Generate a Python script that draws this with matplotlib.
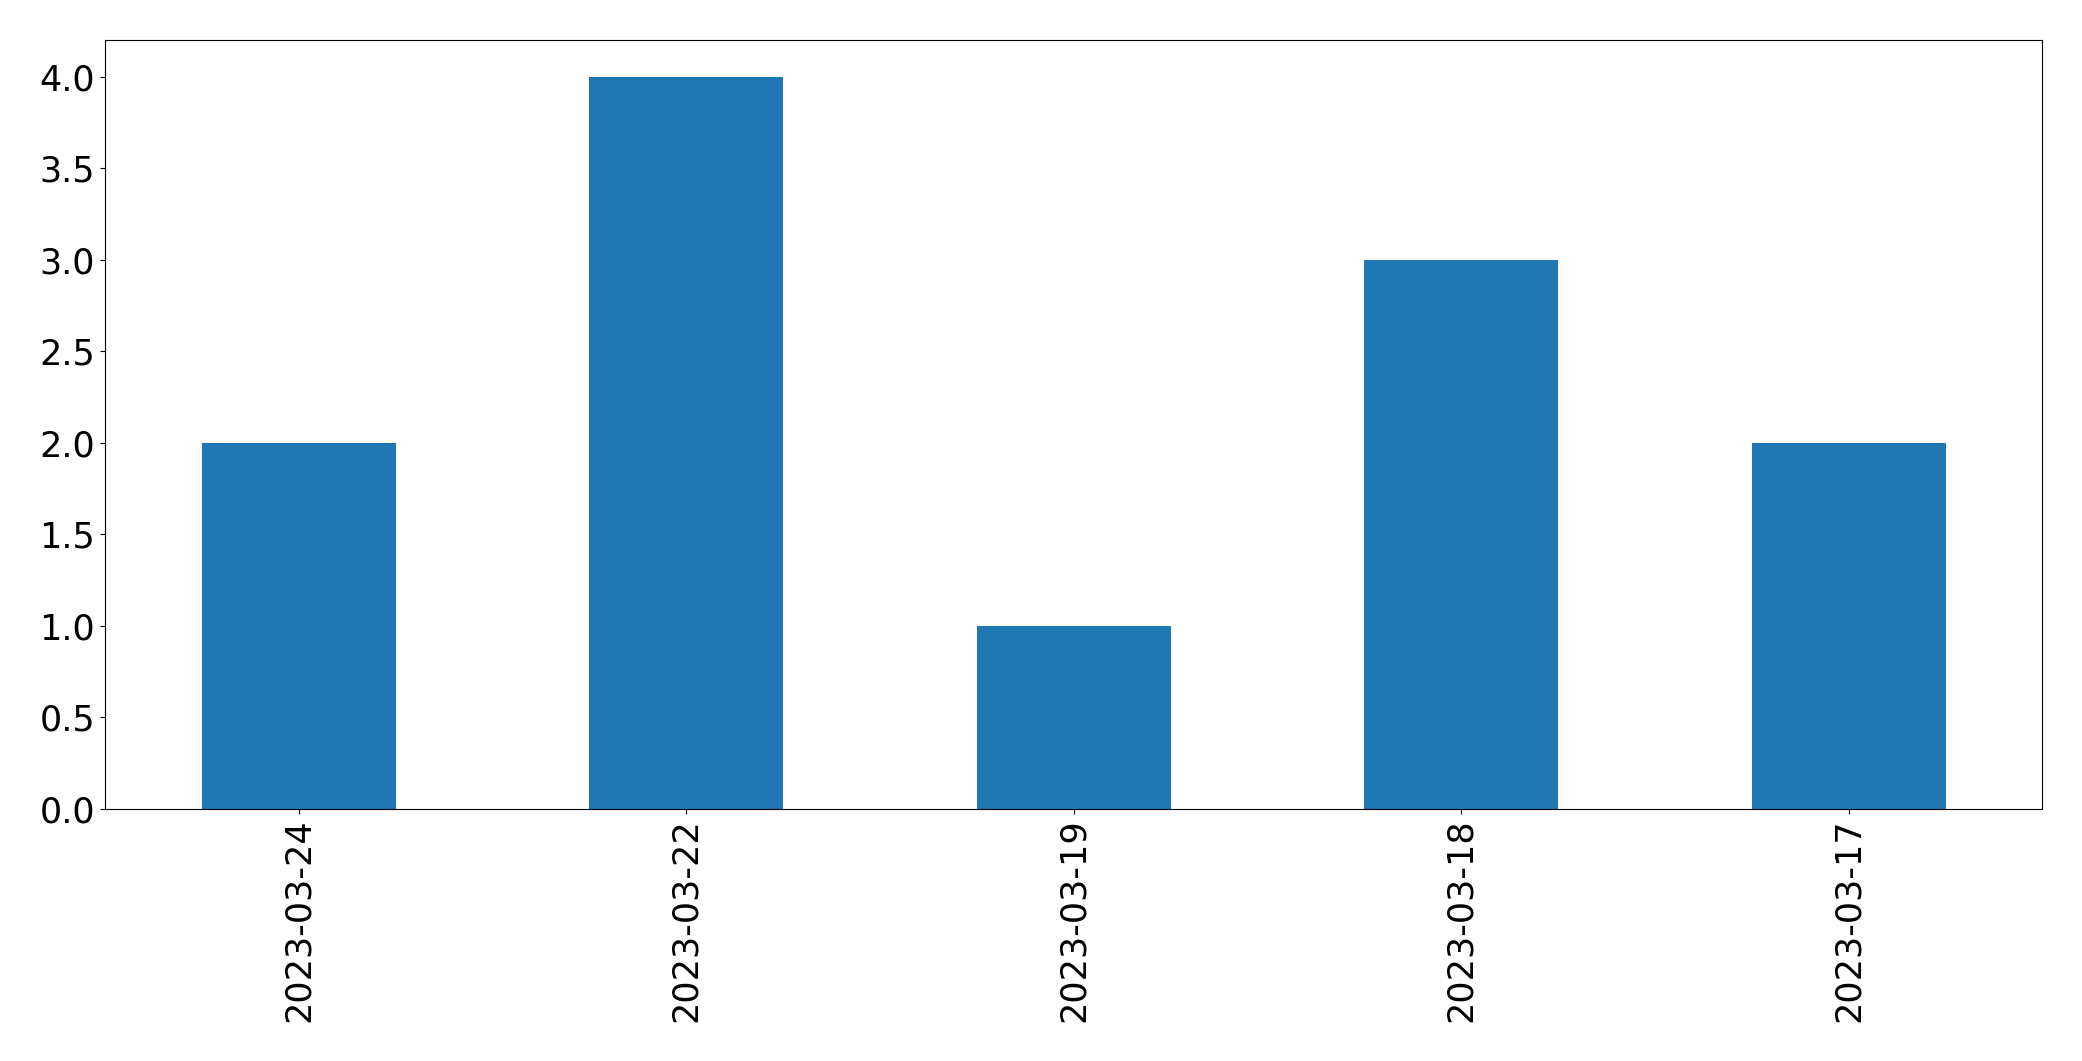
import matplotlib
matplotlib.use("Agg")
import matplotlib.pyplot as plt
import numpy as np

dates = ["2023-03-24", "2023-03-22", "2023-03-19", "2023-03-18", "2023-03-17"]
counts = [2, 4, 1, 3, 2]

plt.rcParams["font.size"] = 25.2

fig = plt.figure(figsize=(20.82, 10.61), dpi=100)
ax = fig.add_axes([0.0504, 0.2375, 0.9306, 0.7248])
x = np.arange(len(dates))
ax.bar(x, counts, width=0.5, color="#1f77b4")
ax.set_xlim(-0.5, len(dates) - 0.5)
ax.set_xticks(x)
ax.set_xticklabels(dates, rotation=90)
ax.set_yticks(np.arange(0, 4.01, 0.5))

fig.savefig("out.png", dpi=100)
